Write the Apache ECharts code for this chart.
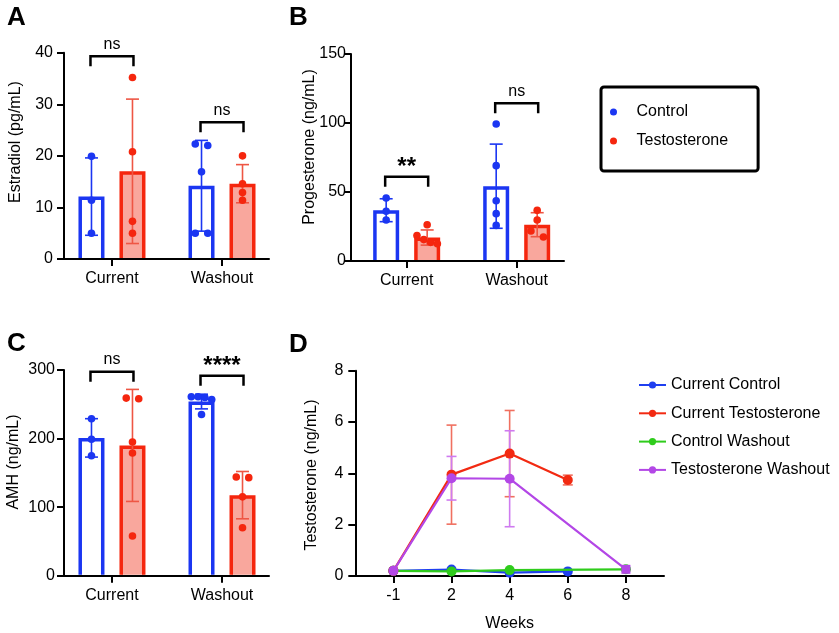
<!DOCTYPE html>
<html><head><meta charset="utf-8">
<script src="https://cdn.jsdelivr.net/npm/echarts@6/dist/echarts.min.js"></script>
<style>html,body{margin:0;padding:0;background:#fff}#c{width:839px;height:633px}</style>
</head><body><div id="c"></div>
<script>
// ---------- DATA ----------
const groups = ['Current', 'Washout'];

// Panel A: Estradiol (pg/mL)
const estradiolControlMean = [12.1, 14.2];
const estradiolControlSD = [7.5, 8.8];
const estradiolTestoMean = [17.0, 14.6];
const estradiolTestoSD = [14.0, 3.7];
const estradiolControlPoints = [[19.9, 11.4, 5.0], [22.3, 22.0, 16.9, 5.0, 5.0]];
const estradiolTestoPoints = [[35.2, 20.8, 7.3, 5.0], [20.0, 14.6, 12.9, 11.4]];
const estradiolBracket = [39.3, 26.5];
const estradiolSig = ['ns', 'ns'];

// Panel B: Progesterone (ng/mL)
const progControlMean = [36.8, 54.2];
const progControlSD = [8.3, 30.5];
const progTestoMean = [17.0, 26.3];
const progTestoSD = [5.5, 8.7];
const progControlPoints = [[45.7, 36.0, 29.7], [99.3, 69.1, 43.7, 34.3, 25.8]];
const progTestoPoints = [[26.3, 18.5, 15.5, 13.5, 12.5], [36.7, 29.7, 21.7, 17.4]];
const progBracket = [61.1, 114.3];
const progSig = ['**', 'ns'];

// Panel C: AMH (ng/mL)
const amhControlMean = [201, 254];
const amhControlSD = [28, 10.7];
const amhTestoMean = [190, 117.5];
const amhTestoSD = [81.7, 34.5];
const amhControlPoints = [[229, 199, 175], [261, 261, 260, 257, 235]];
const amhTestoPoints = [[259, 258, 195, 179, 58], [143, 144, 115, 70]];
const amhBracket = [297.5, 291.7];
const amhSig = ['ns', '****'];

// Panel D: Testosterone (ng/mL) by week
const weeks = ['-1', '2', '4', '6', '8'];
const currentControl = [0.2, 0.25, 0.13, 0.18, null];
const currentTestosterone = [0.2, 3.95, 4.77, 3.74, null];
const currentTestosteroneSD = [0, 1.93, 1.68, 0.19, null];
const controlWashout = [0.2, 0.18, 0.23, null, 0.26];
const testosteroneWashout = [0.2, 3.81, 3.79, null, 0.26];
const testosteroneWashoutSD = [0, 0.85, 1.87, null, 0];

// ---------- STYLE ----------
const FONT = '"Liberation Sans", Arial, Helvetica, sans-serif';
const BLUE = '#1b36f2', RED = '#f5260e', PINK = '#f9a79d', REDERR = '#ee5644';
const BAR_OFF = 20.5, BAR_W = 26, BORDER = 3.5, CAP = 6.5, DOT_R = 3.8, LEG = 10;

const chart = echarts.init(document.getElementById('c'), null, {renderer: 'canvas'});

function barRender(side, fill, stroke, errColor) {
  return function (params, api) {
    const xi = api.value(0), m = api.value(1), sd = api.value(2);
    const b = api.coord([xi, 0]), t = api.coord([xi, m]);
    const cx = b[0] + side * BAR_OFF;
    const L = cx - BAR_W / 2 + BORDER / 2, R = cx + BAR_W / 2 - BORDER / 2, T = t[1] + BORDER / 2, B = b[1] - 1;
    const hi = api.coord([xi, m + sd])[1], lo = api.coord([xi, m - sd])[1];
    return {type: 'group', children: [
      {type: 'rect', shape: {x: L, y: T, width: R - L, height: B - T}, style: {fill: fill}},
      {type: 'polyline', shape: {points: [[L, B], [L, T], [R, T], [R, B]]}, style: {stroke: stroke, lineWidth: BORDER, fill: null, lineJoin: 'miter'}},
      {type: 'line', shape: {x1: cx, y1: hi, x2: cx, y2: lo}, style: {stroke: errColor, lineWidth: 1.6}},
      {type: 'line', shape: {x1: cx - CAP, y1: hi, x2: cx + CAP, y2: hi}, style: {stroke: errColor, lineWidth: 1.6}},
      {type: 'line', shape: {x1: cx - CAP, y1: lo, x2: cx + CAP, y2: lo}, style: {stroke: errColor, lineWidth: 1.6}}
    ]};
  };
}

function swarm(ys) {
  const idx = ys.map((y, i) => i).sort((a, b) => ys[a] - ys[b]);
  const offs = new Array(ys.length).fill(0);
  let cluster = [idx[0]];
  const flush = () => {
    const n = cluster.length;
    if (n > 1) {
      const s = n === 2 ? 12.5 : 6.8;
      cluster.forEach((k, m) => { offs[k] = (m - (n - 1) / 2) * s; });
    }
  };
  for (let q = 1; q < idx.length; q++) {
    if (ys[idx[q]] - ys[idx[q - 1]] < 2 * DOT_R - 0.3) cluster.push(idx[q]);
    else { flush(); cluster = [idx[q]]; }
  }
  flush();
  return offs;
}

function dotRender(side, ptsArr, color) {
  return function (params, api) {
    const xi = api.value(0), v = api.value(1), j = api.value(2);
    const vals = ptsArr[xi];
    const offs = swarm(vals.map(val => api.coord([xi, val])[1]));
    const c = api.coord([xi, v]);
    return {type: 'circle', shape: {cx: c[0] + side * BAR_OFF + offs[j], cy: c[1], r: DOT_R}, style: {fill: color}};
  };
}

function bracketRender(labels) {
  return function (params, api) {
    const xi = api.value(0), top = api.value(1);
    const c = api.coord([xi, top]);
    const x1 = c[0] - 21.5, x2 = c[0] + 21.5, y = c[1];
    const lab = labels[xi];
    const star = lab.indexOf('*') >= 0;
    return {type: 'group', children: [
      {type: 'polyline', shape: {points: [[x1, y + LEG], [x1, y], [x2, y], [x2, y + LEG]]}, style: {stroke: '#000', lineWidth: 2.5, fill: null}},
      {type: 'text', x: c[0], y: star ? y + 3 : y - 4, style: {text: lab, textAlign: 'center', textVerticalAlign: 'bottom', align: 'center', verticalAlign: 'bottom', font: star ? 'bold 24px ' + FONT : '16px ' + FONT, fill: '#000'}}
    ]};
  };
}

const axisLine = {show: true, onZero: false, lineStyle: {color: '#000', width: 2}};
const axisTick = {show: true, length: 7, lineStyle: {color: '#000', width: 2}};
const labelStyle = {color: '#000', fontSize: 16, fontFamily: FONT};

const grids = [
  {left: 64, top: 52.7, width: 205, height: 206.3},
  {left: 351, top: 54, width: 213, height: 207},
  {left: 64, top: 370, width: 205, height: 205.7},
  {left: 355.3, top: 370.7, width: 308.7, height: 205.3}
];

const barPanels = [
  {cM: estradiolControlMean, cS: estradiolControlSD, tM: estradiolTestoMean, tS: estradiolTestoSD, cP: estradiolControlPoints, tP: estradiolTestoPoints, br: estradiolBracket, sig: estradiolSig, max: 40, interval: 10, xmin: -0.436, xmax: 1.427, yMargin: 11},
  {cM: progControlMean, cS: progControlSD, tM: progTestoMean, tS: progTestoSD, cP: progControlPoints, tP: progTestoPoints, br: progBracket, sig: progSig, max: 150, interval: 50, xmin: -0.506, xmax: 1.43, yMargin: 5},
  {cM: amhControlMean, cS: amhControlSD, tM: amhTestoMean, tS: amhTestoSD, cP: amhControlPoints, tP: amhTestoPoints, br: amhBracket, sig: amhSig, max: 300, interval: 100, xmin: -0.436, xmax: 1.427, yMargin: 9}
];

const xAxes = [], yAxes = [], series = [];
barPanels.forEach((p, gi) => {
  xAxes.push({type: 'value', gridIndex: gi, min: p.xmin, max: p.xmax, axisLine: axisLine,
    axisTick: Object.assign({customValues: [0, 1]}, axisTick),
    axisLabel: Object.assign({customValues: [0, 1], margin: 12, formatter: v => groups[Math.round(v)]}, labelStyle),
    splitLine: {show: false}});
  yAxes.push({type: 'value', gridIndex: gi, min: 0, max: p.max, interval: p.interval, axisLine: axisLine, axisTick: axisTick,
    axisLabel: Object.assign({}, labelStyle, {margin: p.yMargin}), splitLine: {show: false}});
  const common = {type: 'custom', xAxisIndex: gi, yAxisIndex: gi, silent: true};
  series.push(Object.assign({name: 'Control', itemStyle: {color: BLUE}, z: 2,
    renderItem: barRender(-1, '#ffffff', BLUE, BLUE),
    data: groups.map((g, i) => [i, p.cM[i], p.cS[i]])}, common));
  series.push(Object.assign({name: 'Testosterone', itemStyle: {color: RED}, z: 2,
    renderItem: barRender(1, PINK, RED, REDERR),
    data: groups.map((g, i) => [i, p.tM[i], p.tS[i]])}, common));
  const cData = [], tData = [];
  p.cP.forEach((arr, i) => arr.forEach((v, j) => cData.push([i, v, j])));
  p.tP.forEach((arr, i) => arr.forEach((v, j) => tData.push([i, v, j])));
  series.push(Object.assign({name: 'Control', itemStyle: {color: BLUE}, z: 3, renderItem: dotRender(-1, p.cP, BLUE), data: cData}, common));
  series.push(Object.assign({name: 'Testosterone', itemStyle: {color: RED}, z: 3, renderItem: dotRender(1, p.tP, RED), data: tData}, common));
  series.push(Object.assign({name: 'sig' + gi, z: 3, renderItem: bracketRender(p.sig), data: groups.map((g, i) => [i, p.br[i]])}, common));
});

// Panel D axes
xAxes.push({type: 'value', gridIndex: 3, min: -0.655, max: 4.655, axisLine: axisLine,
  axisTick: Object.assign({customValues: [0, 1, 2, 3, 4]}, axisTick),
  axisLabel: Object.assign({customValues: [0, 1, 2, 3, 4], margin: 12, formatter: v => weeks[Math.round(v)]}, labelStyle),
  splitLine: {show: false},
  name: 'Weeks', nameLocation: 'middle', nameGap: 40, nameTextStyle: {color: '#000', fontSize: 16, fontFamily: FONT}});
yAxes.push({type: 'value', gridIndex: 3, min: 0, max: 8, interval: 2, axisLine: axisLine, axisTick: axisTick,
  axisLabel: Object.assign({margin: 12}, labelStyle), splitLine: {show: false}});

const D_BLUE = '#1f3ff0', D_RED = '#f22a12', D_GREEN = '#2fcc1c', D_PURPLE = '#b347e6';
function lineSeries(name, arr, color, z, lastSquare) {
  const data = [];
  arr.forEach((v, i) => {
    if (v === null) return;
    if (lastSquare && i === arr.length - 1) data.push({value: [i, v], symbol: 'rect', symbolSize: 9});
    else data.push([i, v]);
  });
  return {type: 'line', name: name, xAxisIndex: 3, yAxisIndex: 3, data: data, z: z,
    symbol: 'circle', symbolSize: 10, showSymbol: true, silent: true,
    lineStyle: {color: color, width: 2.2}, itemStyle: {color: color}};
}
function errSeries(name, arr, sd, color) {
  const data = [];
  arr.forEach((v, i) => { if (v !== null && sd[i]) data.push([i, v, sd[i]]); });
  return {type: 'custom', name: name, xAxisIndex: 3, yAxisIndex: 3, z: 1, silent: true, data: data,
    renderItem: function (params, api) {
      const x = api.value(0), m = api.value(1), s = api.value(2);
      const hi = api.coord([x, m + s]), lo = api.coord([x, m - s]);
      const cx = hi[0];
      return {type: 'group', children: [
        {type: 'line', shape: {x1: cx, y1: hi[1], x2: cx, y2: lo[1]}, style: {stroke: color, lineWidth: 1.6}},
        {type: 'line', shape: {x1: cx - 5, y1: hi[1], x2: cx + 5, y2: hi[1]}, style: {stroke: color, lineWidth: 1.6}},
        {type: 'line', shape: {x1: cx - 5, y1: lo[1], x2: cx + 5, y2: lo[1]}, style: {stroke: color, lineWidth: 1.6}}
      ]};
    }};
}
series.push(errSeries('errCT', currentTestosterone, currentTestosteroneSD, '#f07060'));
series.push(errSeries('errTW', testosteroneWashout, testosteroneWashoutSD, '#cf7bf0'));
series.push(lineSeries('Current Control', currentControl, D_BLUE, 2, false));
series.push(lineSeries('Control Washout', controlWashout, D_GREEN, 3, false));
series.push(lineSeries('Current Testosterone', currentTestosterone, D_RED, 4, false));
series.push(lineSeries('Testosterone Washout', testosteroneWashout, D_PURPLE, 5, true));

function vText(text, x, y) {
  return {type: 'text', x: x, y: y, rotation: Math.PI / 2,
    style: {text: text, font: '16px ' + FONT, fill: '#000', textAlign: 'center', textVerticalAlign: 'middle', align: 'center', verticalAlign: 'middle'}};
}
function letter(text, x, y) {
  return {type: 'text', x: x, y: y, style: {text: text, font: 'bold 26px ' + FONT, fill: '#000', textAlign: 'left', textVerticalAlign: 'top'}};
}

chart.setOption({
  animation: false,
  backgroundColor: '#ffffff',
  textStyle: {fontFamily: FONT},
  grid: grids,
  xAxis: xAxes,
  yAxis: yAxes,
  series: series,
  legend: [
    {data: [{name: 'Control', icon: 'circle'}, {name: 'Testosterone', icon: 'circle'}],
      orient: 'vertical', left: 601, top: 87, itemWidth: 36, itemHeight: 7, itemGap: 13,
      padding: [17, 30, 22, 9], borderColor: '#000', borderWidth: 3, borderRadius: 3,
      selectedMode: false, textStyle: {fontSize: 16, color: '#000', fontFamily: FONT}},
    {data: ['Current Control', 'Current Testosterone', 'Control Washout', 'Testosterone Washout'],
      orient: 'vertical', left: 633, top: 372, itemWidth: 27, itemHeight: 9, itemGap: 12.3,
      selectedMode: false, textStyle: {fontSize: 16, color: '#000', fontFamily: FONT}}
  ],
  graphic: [
    letter('A', 7, 5), letter('B', 289, 5), letter('C', 7, 331), letter('D', 289, 332),
    vText('Estradiol (pg/mL)', 16, 142),
    vText('Progesterone (ng/mL)', 310, 147),
    vText('AMH (ng/mL)', 14, 462),
    vText('Testosterone (ng/mL)', 311.5, 475)
  ]
});
</script></body></html>
